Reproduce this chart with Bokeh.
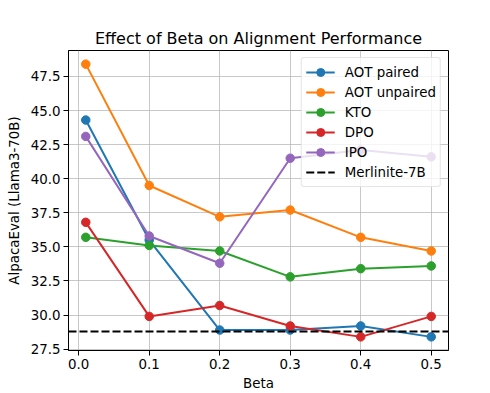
from bokeh.plotting import figure
from bokeh.models import Range1d, FixedTicker, NumeralTickFormatter, Legend
from bokeh.embed import file_html
from bokeh.resources import INLINE

beta = [0.01, 0.1, 0.2, 0.3, 0.4, 0.5]
aot_paired = [44.3, 35.5, 28.9, 28.9, 29.2, 28.4]
aot_unpaired = [48.4, 39.5, 37.2, 37.7, 35.7, 34.7]
kto = [35.7, 35.1, 34.7, 32.8, 33.4, 33.6]
dpo = [36.8, 29.9, 30.7, 29.2, 28.4, 29.9]
ipo = [43.1, 35.8, 33.8, 41.5, 42.1, 41.6]
merlinite = 28.8

series = [
    ("AOT paired", aot_paired, "#1f77b4"),
    ("AOT unpaired", aot_unpaired, "#ff7f0e"),
    ("KTO", kto, "#2ca02c"),
    ("DPO", dpo, "#d62728"),
    ("IPO", ipo, "#9467bd"),
]
x_ticks = [0.0, 0.1, 0.2, 0.3, 0.4, 0.5]
y_ticks = [27.5, 30.0, 32.5, 35.0, 37.5, 40.0, 42.5, 45.0, 47.5]

FONT = "DejaVu Sans"

xmin, xmax = min(beta), max(beta)
xm = 0.05 * (xmax - xmin)
allv = [v for _, s, _ in series for v in s]
ymin, ymax = min(allv), max(allv)
ym = 0.05 * (ymax - ymin)
x0, x1 = xmin - xm, xmax + xm

p = figure(width=490, height=393, output_backend="svg", toolbar_location=None,
           x_range=Range1d(x0, x1), y_range=Range1d(ymin - ym, ymax + ym),
           min_border_left=68, min_border_right=42, min_border_top=50, min_border_bottom=41)

p.title.text = "Effect of Beta on Alignment Performance"
p.title.align = "center"
p.title.text_font = FONT
p.title.text_font_size = "16px"
p.title.text_font_style = "normal"
p.title.text_color = "#000000"
p.title.standoff = 6

p.outline_line_color = "black"
p.outline_line_width = 1
p.outline_line_alpha = 1

for ax in (p.xaxis[0], p.yaxis[0]):
    ax.axis_line_color = "black"
    ax.major_tick_line_color = "black"
    ax.major_tick_out = 5
    ax.major_tick_in = 0
    ax.minor_tick_line_color = None
    ax.major_label_text_font = FONT
    ax.major_label_text_font_size = "13.4px"
    ax.major_label_text_color = "black"
    ax.axis_label_text_font = FONT
    ax.axis_label_text_font_size = "13.4px"
    ax.axis_label_text_font_style = "normal"
    ax.axis_label_text_color = "black"
    ax.major_label_standoff = 3

p.xaxis[0].ticker = FixedTicker(ticks=x_ticks)
p.xaxis[0].formatter = NumeralTickFormatter(format="0.0")
p.yaxis[0].ticker = FixedTicker(ticks=y_ticks)
p.yaxis[0].formatter = NumeralTickFormatter(format="0.0")
p.xaxis[0].axis_label = "Beta"
p.yaxis[0].axis_label = "AlpacaEval (Llama3-70B)"
p.xaxis[0].axis_label_standoff = 4
p.yaxis[0].axis_label_standoff = 6

p.grid.grid_line_color = "#b0b0b0"
p.grid.grid_line_alpha = 0.7
p.grid.grid_line_width = 1

items = []
for name, vals, col in series:
    r1 = p.line(beta, vals, line_color=col, line_width=2)
    r2 = p.scatter(beta, vals, size=8.5, fill_color=col, line_color=col)
    items.append((name, [r1, r2]))

rm = p.line([x0, x1], [merlinite, merlinite], line_color="black", line_width=2, line_dash="8 3")
items.append(("Merlinite-7B", [rm]))

legend = Legend(items=items, location="top_right")
legend.label_text_font = FONT
legend.label_text_font_size = "13.4px"
legend.label_text_color = "black"
legend.glyph_width = 29
legend.glyph_height = 20
legend.label_height = 20
legend.spacing = 0
legend.padding = 4
legend.margin = 7
legend.label_standoff = 10
legend.border_line_color = "#cccccc"
legend.border_line_width = 1
legend.background_fill_alpha = 0.8
legend.border_radius = 3
p.add_layout(legend)

open("out.html", "w").write(file_html(p, INLINE))
